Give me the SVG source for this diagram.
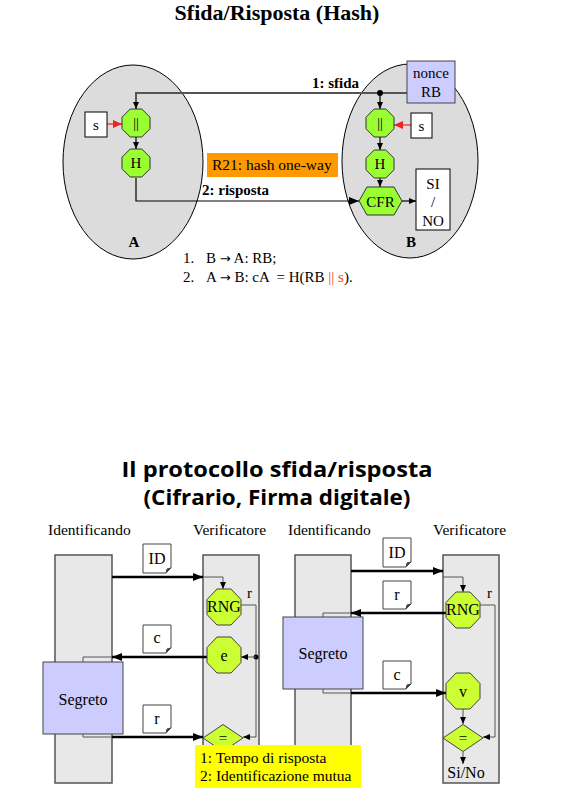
<svg xmlns="http://www.w3.org/2000/svg" xmlns:xlink="http://www.w3.org/1999/xlink" width="563" height="806" viewBox="0 0 563 806">
<style>
text{font-family:"Liberation Serif","Times New Roman",serif;fill:#000}
.b{font-weight:bold}
.arw{font-family:"DejaVu Sans",sans-serif;font-size:13px}
.ell{fill:#dcdcdc;stroke:#000;stroke-width:1}
.box{fill:#fff;stroke:#000;stroke-width:1}
.lav{fill:#ccccff;stroke:#444;stroke-width:1}
.g1{fill:#99ff33;stroke:#333;stroke-width:1}
.g2{fill:#ccff33;stroke:#444;stroke-width:1}
.col{fill:#e8e8e8;stroke:#555;stroke-width:1.5}
.thk{fill:none;stroke:#000;stroke-width:2.5}
.thn{fill:none;stroke:#555;stroke-width:1}
.ln{fill:none;stroke:#000;stroke-width:1.2}
.gl{fill:none;stroke:#555;stroke-width:2}
.red{fill:none;stroke:#ee2222;stroke-width:1.2}
.note{fill:#fff;stroke:#444;stroke-width:1}
.ttl{font-family:"Comic Sans MS","Open Sans",sans-serif;font-weight:bold}
</style>
<defs>
<polygon id="oct14" points="-5.8,-14 5.8,-14 14,-5.8 14,5.8 5.8,14 -5.8,14 -14,5.8 -14,-5.8"/>
<polygon id="oct18" points="-7,-18 7,-18 17,-7.5 17,7.5 7,18 -7,18 -17,7.5 -17,-7.5"/>
<polygon id="dia" points="-20,0 0,-13.5 20,0 0,13.5"/>
<marker id="ah" markerWidth="10" markerHeight="8" refX="10" refY="4" orient="auto" markerUnits="userSpaceOnUse"><path d="M0,0 L10,4 L0,8 z" fill="#000"/></marker>
<marker id="as" markerWidth="7" markerHeight="6" refX="7" refY="3" orient="auto" markerUnits="userSpaceOnUse"><path d="M0,0 L7,3 L0,6 z" fill="#000"/></marker>
<marker id="ar" markerWidth="9" markerHeight="8" refX="9" refY="4" orient="auto" markerUnits="userSpaceOnUse"><path d="M0,0 L9,4 L0,8 z" fill="#ee2222"/></marker>
</defs>

<!-- ===== Top part ===== -->
<text x="277" y="20" text-anchor="middle" class="b" font-size="22">Sfida/Risposta (Hash)</text>

<g id="entityA">
<ellipse class="ell" cx="133" cy="162" rx="70" ry="97"/>
<text x="134" y="247" text-anchor="middle" class="b" font-size="15">A</text>
</g>
<g id="entityB">
<ellipse class="ell" cx="410" cy="161" rx="68" ry="97"/>
<text x="411" y="247" text-anchor="middle" class="b" font-size="15">B</text>
</g>

<g id="top-connectors">
<path class="gl" d="M407,93 H136 V109" marker-end="url(#as)"/>
<path class="gl" d="M380,93 V109" marker-end="url(#as)"/>
<circle cx="380" cy="93" r="3" fill="#000"/>
<path class="ln" d="M136,137 V149" marker-end="url(#as)"/>
<path class="ln" d="M136,178 V201 H359" marker-end="url(#ah)"/>
<path class="ln" d="M380,137 V150" marker-end="url(#as)"/>
<path class="ln" d="M380,178 V187" marker-end="url(#as)"/>
<path class="ln" d="M402,201 H416" marker-end="url(#as)"/>
<path class="red" d="M107,124 H122" marker-end="url(#ar)"/>
<path class="red" d="M411,125 H394" marker-end="url(#ar)"/>
<text x="312" y="88" class="b" font-size="15">1: sfida</text>
<text x="202" y="195" class="b" font-size="15">2: risposta</text>
</g>

<g id="nonceRB">
<rect class="lav" x="407" y="61" width="48" height="42"/>
<text x="431" y="78" text-anchor="middle" font-size="15">nonce</text>
<text x="431" y="97" text-anchor="middle" font-size="15">RB</text>
</g>
<g id="sA">
<rect class="box" x="85" y="112" width="22" height="25"/>
<text x="96" y="130" text-anchor="middle" font-size="15">s</text>
</g>
<g id="concatA">
<use href="#oct14" x="136" y="123" class="g1"/>
<text x="136" y="128" text-anchor="middle" font-size="14">||</text>
</g>
<g id="hashA">
<use href="#oct14" x="136" y="163" class="g1"/>
<text x="136" y="168" text-anchor="middle" font-size="15">H</text>
</g>
<g id="sB">
<rect class="box" x="411" y="113" width="21" height="25"/>
<text x="421.5" y="131" text-anchor="middle" font-size="15">s</text>
</g>
<g id="concatB">
<use href="#oct14" x="380" y="123" class="g1"/>
<text x="380" y="128" text-anchor="middle" font-size="14">||</text>
</g>
<g id="hashB">
<use href="#oct14" x="380" y="164" class="g1"/>
<text x="380" y="169" text-anchor="middle" font-size="15">H</text>
</g>
<g id="cfr">
<polygon class="g1" points="359,201 367,187 394,187 402,201 394,215 367,215"/>
<text x="380.5" y="206.5" text-anchor="middle" font-size="15">CFR</text>
</g>
<g id="sino">
<rect class="box" x="416" y="169" width="34" height="61"/>
<text x="433" y="189" text-anchor="middle" font-size="15">SI</text>
<text x="433" y="207" text-anchor="middle" font-size="15">/</text>
<text x="433" y="226" text-anchor="middle" font-size="15">NO</text>
</g>
<g id="r21">
<rect x="207" y="153" width="131" height="24" fill="#ff9900"/>
<text x="212" y="170" font-size="15.5">R21: hash one-way</text>
</g>
<g id="steps">
<text x="183" y="263" font-size="15">1.</text>
<text x="206" y="263" font-size="15" xml:space="preserve">B <tspan class="arw">→</tspan> A: RB;</text>
<text x="183" y="282" font-size="15">2.</text>
<text x="206" y="282" font-size="15" xml:space="preserve">A <tspan class="arw">→</tspan> B: cA  = H(RB <tspan fill="#ee4422">||</tspan> <tspan fill="#ee4422">s</tspan>).</text>
</g>

<!-- ===== Bottom part ===== -->
<text x="277" y="477" text-anchor="middle" class="ttl" font-size="21" textLength="311" lengthAdjust="spacingAndGlyphs">Il protocollo sfida/risposta</text>
<text x="277" y="505" text-anchor="middle" class="ttl" font-size="21" textLength="267" lengthAdjust="spacingAndGlyphs">(Cifrario, Firma digitale)</text>

<text x="48" y="535" font-size="15.5">Identificando</text>
<text x="193" y="535" font-size="15.5">Verificatore</text>
<text x="288" y="535" font-size="15.5">Identificando</text>
<text x="433" y="535" font-size="15.5">Verificatore</text>

<g id="colIdL"><rect class="col" x="55" y="555" width="57" height="228"/></g>
<g id="colVerL"><rect class="col" x="203" y="555" width="56" height="228"/></g>
<g id="colIdR"><rect class="col" x="295" y="555" width="56" height="228"/></g>
<g id="colVerR"><rect class="col" x="443" y="555" width="56" height="228"/></g>

<g id="segretoL">
<rect class="lav" x="43" y="662" width="80" height="72"/>
<text x="83" y="705" text-anchor="middle" font-size="16">Segreto</text>
</g>
<g id="segretoR">
<rect class="lav" x="283" y="617" width="80" height="72"/>
<text x="323" y="659" text-anchor="middle" font-size="16">Segreto</text>
</g>

<g id="bottom-connectors">
<!-- left panel -->
<path class="thk" d="M112,577 H203" marker-end="url(#ah)"/>
<path class="thn" d="M203,577 H223 V589" marker-end="url(#as)"/>
<path class="thn" d="M241,605 H256 V737 H243" marker-end="url(#as)"/>
<circle cx="256" cy="657" r="2.5" fill="#000"/>
<path class="thn" d="M256,657 H241" marker-end="url(#as)"/>
<path class="thk" d="M207,657 H112" marker-end="url(#ah)"/>
<path class="thn" d="M112,657 H83 V662"/>
<path class="thn" d="M83,734 V737 H112"/>
<path class="thk" d="M112,737 H203" marker-end="url(#ah)"/>
<!-- right panel -->
<path class="thk" d="M351,571 H443" marker-end="url(#ah)"/>
<path class="thn" d="M443,577 H463 V592" marker-end="url(#as)"/>
<path class="thk" d="M447,613 H351" marker-end="url(#ah)"/>
<path class="thn" d="M351,613 H323 V617"/>
<path class="thn" d="M480,605 H495 V737 H483" marker-end="url(#as)"/>
<path class="thn" d="M323,689 V693 H351"/>
<path class="thk" d="M351,693 H446" marker-end="url(#ah)"/>
<path class="thn" d="M463,709 V724" marker-end="url(#as)"/>
<path class="thn" d="M463,752 V764" marker-end="url(#as)"/>
</g>

<g id="noteIDL">
<path class="note" d="M143,544 H171 V568 L166,573 H143 Z"/>
<path d="M166,573 L167,569 L171,568" fill="#444" stroke="#444"/>
<text x="157" y="564" text-anchor="middle" font-size="16">ID</text>
</g>
<g id="noteCL">
<path class="note" d="M143,625 H171 V648 L166,653 H143 Z"/>
<path d="M166,653 L167,649 L171,648" fill="#444" stroke="#444"/>
<text x="157" y="643" text-anchor="middle" font-size="16">c</text>
</g>
<g id="noteRL">
<path class="note" d="M143,705 H171 V728 L166,733 H143 Z"/>
<path d="M166,733 L167,729 L171,728" fill="#444" stroke="#444"/>
<text x="157" y="724" text-anchor="middle" font-size="16">r</text>
</g>
<g id="noteIDR">
<path class="note" d="M383,538 H411 V562 L406,567 H383 Z"/>
<path d="M406,567 L407,563 L411,562" fill="#444" stroke="#444"/>
<text x="397" y="558" text-anchor="middle" font-size="16">ID</text>
</g>
<g id="noteRR">
<path class="note" d="M383,581 H411 V604 L406,609 H383 Z"/>
<path d="M406,609 L407,605 L411,604" fill="#444" stroke="#444"/>
<text x="397" y="600" text-anchor="middle" font-size="16">r</text>
</g>
<g id="noteCR">
<path class="note" d="M383,661 H411 V684 L406,689 H383 Z"/>
<path d="M406,689 L407,685 L411,684" fill="#444" stroke="#444"/>
<text x="397" y="680" text-anchor="middle" font-size="16">c</text>
</g>

<g id="rngL">
<use href="#oct18" x="224" y="607" class="g2"/>
<text x="224" y="612" text-anchor="middle" font-size="16">RNG</text>
<text x="247" y="598" font-size="15">r</text>
</g>
<g id="eL">
<use href="#oct18" x="224" y="655" class="g2"/>
<text x="224" y="661" text-anchor="middle" font-size="16">e</text>
</g>
<g id="eqL">
<use href="#dia" x="223" y="738" class="g2"/>
<text x="223" y="743" text-anchor="middle" font-size="15">=</text>
</g>
<g id="rngR">
<use href="#oct18" x="463" y="610" class="g2"/>
<text x="463" y="615" text-anchor="middle" font-size="16">RNG</text>
<text x="487" y="598" font-size="15">r</text>
</g>
<g id="vR">
<use href="#oct18" x="463" y="691" class="g2"/>
<text x="463" y="697" text-anchor="middle" font-size="16">v</text>
</g>
<g id="eqR">
<use href="#dia" x="463" y="738" class="g2"/>
<text x="463" y="743" text-anchor="middle" font-size="15">=</text>
</g>
<text x="466" y="778" text-anchor="middle" font-size="16">Si/No</text>

<g id="legend">
<rect x="195" y="745" width="166" height="43" fill="#ffff00"/>
<text x="200" y="763" font-size="15.5">1: Tempo di risposta</text>
<text x="200" y="781" font-size="15.5">2: Identificazione mutua</text>
</g>
</svg>
